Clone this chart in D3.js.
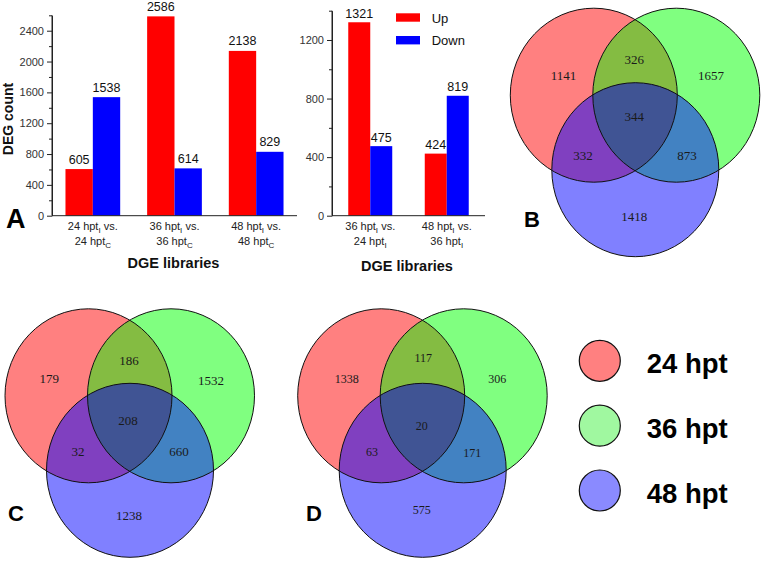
<!DOCTYPE html>
<html><head><meta charset="utf-8">
<script src="https://cdn.jsdelivr.net/npm/d3@7/dist/d3.min.js"></script>
<style>body{margin:0;background:#fff}svg{display:block}</style>
</head><body>
<svg id="c" width="763" height="561"></svg>
<script>
// ---------- data ----------
const categories1 = ["24 hpt_I vs. 24 hpt_C", "36 hpt_I vs. 36 hpt_C", "48 hpt_I vs. 48 hpt_C"];
const up1 = [605, 2586, 2138];
const down1 = [1538, 614, 829];
const categories2 = ["36 hpt_I vs. 24 hpt_I", "48 hpt_I vs. 36 hpt_I"];
const up2 = [1321, 424];
const down2 = [475, 819];
const seriesNames = ["Up", "Down"];
const yTicks1 = [0, 400, 800, 1200, 1600, 2000, 2400];
const yMinor1 = [200, 600, 1000, 1400, 1800, 2200, 2600];
const yTicks2 = [0, 400, 800, 1200];
const yMinor2 = [200, 600, 1000, 1400];
const setNames = ["24 hpt", "36 hpt", "48 hpt"];
const regionKeys = ["R", "G", "B", "RG", "RB", "GB", "RGB"];
const vennB = [1141, 1657, 1418, 326, 332, 873, 344];
const vennC = [179, 1532, 1238, 186, 32, 660, 208];
const vennD = [1338, 306, 575, 117, 63, 171, 20];

// ---------- styles ----------
const SANS = "'Liberation Sans', Arial, sans-serif";
const SERIF = "'Liberation Serif', 'Times New Roman', serif";
const barColors = {Up: "#ff0000", Down: "#0000ff"};
const vennColors = {R: "#ff8080", G: "#80ff80", B: "#8080ff", RG: "#84bc42", RB: "#8040c0", GB: "#4282c2", RGB: "#405494"};
const legendColors = ["#ff8080", "#a0f8a0", "#8a8aff"];

const svg = d3.select("#c");

function addSubLabel(textSel, str) {
  // str like "24 hpt_I vs." ; underscore char => subscript
  const m = str.match(/^(.*?)_(\w)(.*)$/);
  if (!m) { textSel.text(str); return; }
  textSel.append("tspan").text(m[1]);
  textSel.append("tspan").attr("font-size", "8px").attr("dy", 3).text(m[2]);
  if (m[3]) textSel.append("tspan").attr("dy", -3).text(m[3]);
}

function barChart(cfg) {
  const g = svg.append("g");
  const x0 = d3.scaleBand().domain(cfg.cats).range(cfg.xRange).paddingInner(cfg.pI).paddingOuter(cfg.pO);
  const x1 = d3.scaleBand().domain(seriesNames).range([0, x0.bandwidth()]);
  const y = d3.scaleLinear().domain([0, cfg.yMax]).range(cfg.yRange);
  const rows = cfg.cats.map((c, i) => ({cat: c, Up: cfg.up[i], Down: cfg.down[i]}));

  const grp = g.selectAll("g.grp").data(rows).join("g").attr("class", "grp")
    .attr("transform", d => `translate(${x0(d.cat)},0)`);
  grp.selectAll("rect").data(d => seriesNames.map(s => ({s, v: d[s]}))).join("rect")
    .attr("x", d => x1(d.s)).attr("width", x1.bandwidth())
    .attr("y", d => y(d.v)).attr("height", d => y(0) - y(d.v))
    .attr("fill", d => barColors[d.s]);
  grp.selectAll("text.val").data(d => seriesNames.map(s => ({s, v: d[s]}))).join("text")
    .attr("class", "val")
    .attr("x", d => x1(d.s) + x1.bandwidth() / 2).attr("y", d => y(d.v) - cfg.labGap)
    .attr("text-anchor", "middle").attr("font-family", SANS).attr("font-size", "12.5px").attr("fill", "#111")
    .text(d => d.v);

  // y axis
  const ya = g.append("g").attr("transform", `translate(${cfg.xRange[0]},0)`)
    .call(d3.axisLeft(y).tickValues(cfg.ticks).tickSize(5).tickSizeOuter(0).tickPadding(3).tickFormat(d3.format("d")));
  ya.selectAll("text").attr("font-family", SANS).attr("font-size", "11px").attr("fill", "#333");
  ya.selectAll("line,path").attr("stroke", "#222");
  const ym = g.append("g").attr("transform", `translate(${cfg.xRange[0]},0)`)
    .call(d3.axisLeft(y).tickValues(cfg.minor).tickSize(3).tickSizeOuter(0).tickFormat(""));
  ym.select("path").remove();
  ym.selectAll("line").attr("stroke", "#222");
  // extend axis line to top
  g.append("line").attr("x1", cfg.xRange[0]).attr("x2", cfg.xRange[0])
    .attr("y1", y(0)).attr("y2", y(cfg.yMax)).attr("stroke", "#222");
  // x axis
  const xa = g.append("g").attr("transform", `translate(0,${y(0)})`)
    .call(d3.axisBottom(x0).tickSize(0).tickSizeOuter(0).tickFormat(""));
  xa.select("path").attr("stroke", "#222").attr("d", `M${cfg.xRange[0]},0H${cfg.xRange[1]}`);

  // category labels (two lines with subscripts)
  cfg.cats.forEach(c => {
    const parts = c.split(" vs. ");
    const cx = x0(c) + x0.bandwidth() / 2;
    const t1 = g.append("text").attr("x", cx).attr("y", 230).attr("text-anchor", "middle")
      .attr("font-family", SANS).attr("font-size", "11px").attr("fill", "#222");
    addSubLabel(t1, parts[0] + " vs.");
    const t2 = g.append("text").attr("x", cx).attr("y", 244.5).attr("text-anchor", "middle")
      .attr("font-family", SANS).attr("font-size", "11px").attr("fill", "#222");
    addSubLabel(t2, parts[1]);
  });
  g.append("text").attr("x", (cfg.xRange[0] + cfg.xRange[1]) / 2 + cfg.titleDx).attr("y", cfg.titleY)
    .attr("text-anchor", "middle").attr("font-family", SANS).attr("font-weight", "bold")
    .attr("font-size", "14.5px").attr("fill", "#111").text("DGE libraries");
  return {x0, y};
}

barChart({cats: categories1, up: up1, down: down1, yMax: 2600, ticks: yTicks1, minor: yMinor1,
  xRange: [52, 297], yRange: [215.7, 15.3], pI: 0.33, pO: 0.165, labGap: 5.5, titleY: 268, titleDx: -1});
barChart({cats: categories2, up: up2, down: down2, yMax: 1400, ticks: yTicks2, minor: yMinor2,
  xRange: [332, 485], yRange: [215.7, 10.7], pI: 0.425, pO: 0.2125, labGap: 4.5, titleY: 271, titleDx: -1.5});

// y title
svg.append("text").attr("transform", "translate(12.7,119) rotate(-90)").attr("text-anchor", "middle")
  .attr("font-family", SANS).attr("font-weight", "bold").attr("font-size", "14px").attr("fill", "#111")
  .text("DEG count");

// Up / Down legend
const lg = svg.append("g");
seriesNames.forEach((s, i) => {
  lg.append("rect").attr("x", 396).attr("y", 13.3 + i * 22.7).attr("width", 24).attr("height", 8.4).attr("fill", barColors[s]);
  lg.append("text").attr("x", 431.7).attr("y", 22.7 + i * 22.6).attr("font-family", SANS)
    .attr("font-size", "13px").attr("fill", "#111").text(s);
});

// ---------- Venn diagrams ----------
const RX = 83.5, RY = 87;
const vennLayouts = {
  B: {cx: 635.3, cy: 169.7, fs: 13, off: [[-71.7,-94.5],[75.7,-94.5],[-1,46.5],[-1,-110],[-52.3,-14.5],[51.7,-14.5],[-1,-52.8]]},
  C: {cx: 130, cy: 470.3, fs: 13, off: [[-80.7,-92],[81,-89.6],[-1,44.7],[-1,-110],[-52,-18.6],[49,-18.6],[-2,-49.6]]},
  D: {cx: 422.7, cy: 470.3, fs: 12, off: [[-76,-92],[74.6,-92],[-1,39],[0.6,-113],[-50.7,-18.6],[49.6,-17.6],[-1,-45]]}
};
const defs = svg.append("defs");
function venn(id, values) {
  const L = vennLayouts[id];
  const centers = {R: [L.cx - 41.5, L.cy - 74.5], G: [L.cx + 41, L.cy - 74.5], B: [L.cx, L.cy]};
  ["R", "G", "B"].forEach(k => {
    defs.append("clipPath").attr("id", `clip${id}${k}`).append("ellipse")
      .attr("cx", centers[k][0]).attr("cy", centers[k][1]).attr("rx", RX).attr("ry", RY);
  });
  const g = svg.append("g");
  const ell = (sel, k) => sel.append("ellipse").attr("cx", centers[k][0]).attr("cy", centers[k][1]).attr("rx", RX).attr("ry", RY);
  ["R", "G", "B"].forEach(k => ell(g, k).attr("fill", vennColors[k]));
  ell(g, "G").attr("fill", vennColors.RG).attr("clip-path", `url(#clip${id}R)`);
  ell(g, "B").attr("fill", vennColors.RB).attr("clip-path", `url(#clip${id}R)`);
  ell(g, "B").attr("fill", vennColors.GB).attr("clip-path", `url(#clip${id}G)`);
  ell(g.append("g").attr("clip-path", `url(#clip${id}R)`), "B").attr("fill", vennColors.RGB).attr("clip-path", `url(#clip${id}G)`);
  ["R", "G", "B"].forEach(k => ell(g, k).attr("fill", "none").attr("stroke", "#111").attr("stroke-width", 1));
  g.selectAll("text.n").data(values.map((v, i) => ({v, k: regionKeys[i], o: L.off[i]}))).join("text")
    .attr("class", "n").attr("x", d => L.cx + d.o[0]).attr("y", d => L.cy + d.o[1]).attr("dy", "0.35em")
    .attr("text-anchor", "middle").attr("font-family", SERIF).attr("font-size", L.fs + "px").attr("fill", "#1a1a1a")
    .text(d => d.v);
}
venn("B", vennB);
venn("C", vennC);
venn("D", vennD);

// panel letters
[["A", 6, 228.3, 27], ["B", 524, 227.3, 22], ["C", 8, 521, 22], ["D", 306, 521, 22]].forEach(([t, x, y, fs]) => {
  svg.append("text").attr("x", x).attr("y", y).attr("font-family", SANS).attr("font-weight", "bold")
    .attr("font-size", fs + "px").attr("fill", "#000").text(t);
});

// set legend
const legY = d3.scalePoint().domain(setNames).range([360.8, 490.5]);
setNames.forEach((s, i) => {
  svg.append("circle").attr("cx", 599.8).attr("cy", legY(s)).attr("r", 20.5)
    .attr("fill", legendColors[i]).attr("stroke", "#111").attr("stroke-width", 1.2);
  svg.append("text").attr("x", 646.7).attr("y", legY(s) + 12.5).attr("font-family", SANS).attr("font-weight", "bold")
    .attr("font-size", "27.5px").attr("fill", "#000").text(s);
});
</script>
</body></html>
